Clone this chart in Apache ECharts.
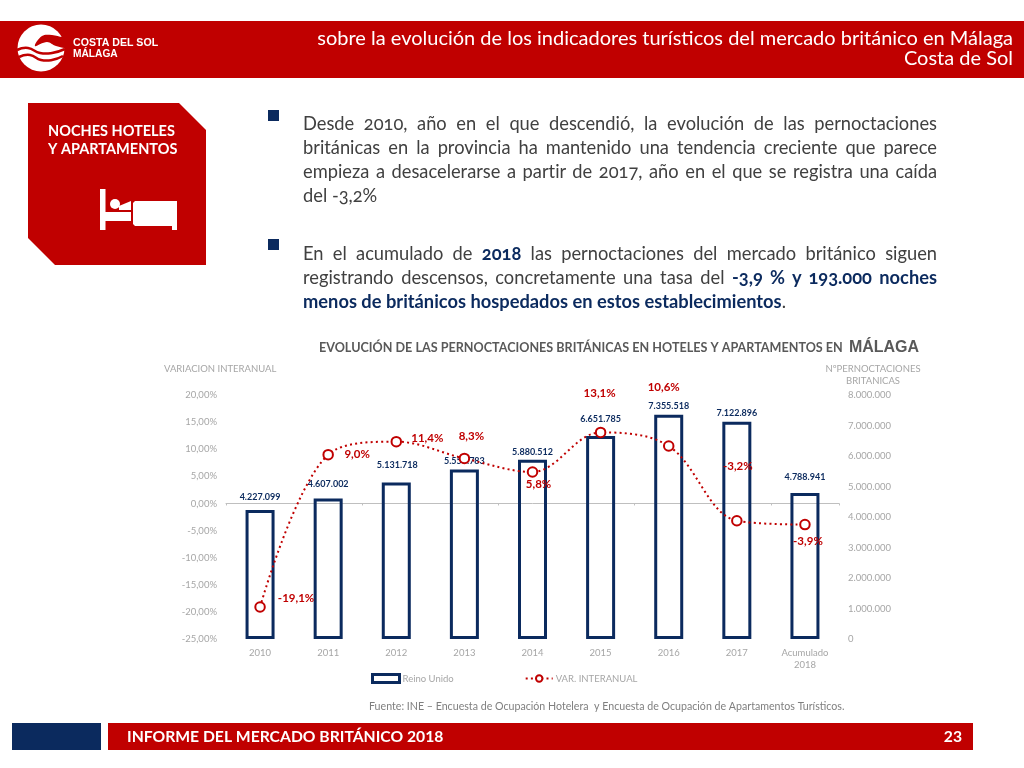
<!DOCTYPE html>
<html><head><meta charset="utf-8">
<style>
html,body{margin:0;padding:0;background:#fff;width:1024px;height:768px;overflow:hidden}
#c{position:absolute;left:0;top:0;width:1024px;height:768px}
.p{position:absolute;left:303px;width:634px;font-family:Lato,sans-serif;font-size:18.3px;line-height:24px;color:#404040;text-align:justify;font-variant-numeric:oldstyle-nums;font-variant-ligatures:none}
.p b{color:#0b2a5e}
</style>
<script src="https://cdn.jsdelivr.net/npm/echarts@6/dist/echarts.min.js"></script>
</head><body>
<div id="c"></div>
<div class="p" style="top:111px">Desde 2010, año en el que descendió, la evolución de las pernoctaciones británicas en la provincia ha mantenido una tendencia creciente que parece empieza a desacelerarse a partir de 2017, año en el que se registra una caída del -3,2%</div>
<div class="p" style="top:241px">En el acumulado de <b>2018</b> las pernoctaciones del mercado británico siguen registrando descensos, concretamente una tasa del <b>-3,9 % y 193.000 noches menos de británicos hospedados en estos establecimientos</b>.</div>
<script>
const categories = ['2010','2011','2012','2013','2014','2015','2016','2017','Acumulado\n2018'];
const pernoctaciones = [4227099,4607002,5131718,5557783,5880512,6651785,7355518,7122896,4788941];
const barLabels = ['4.227.099','4.607.002','5.131.718','5.557.783','5.880.512','6.651.785','7.355.518','7.122.896','4.788.941'];
const variacion = [-19.1,9.0,11.4,8.3,5.8,13.1,10.6,-3.2,-3.9];
const lineLabels = ['-19,1%','9,0%','11,4%','8,3%','5,8%','13,1%','10,6%','-3,2%','-3,9%'];
const leftTicks = {min:-25,max:20,interval:5};
const rightTicks = {min:0,max:8000000,interval:1000000};

const RED='#c00000', NAVY='#0b2a5e', GREY='#a6a6a6', FONT='Lato, sans-serif';
const lineOffsets=[[36,9],[29,17],[31,14],[7,-4],[6,30],[-1,-21],[-5,-41],[1,-37],[3,34]];
const barOffsets=[[0,-2],[0,-4],[1,-7],[0,2],[0,3],[0,-7],[0,2],[0,2],[0,-5]];
const thou=v=>String(v).replace(/\B(?=(\d{3})+$)/g,'.');

const chart=echarts.init(document.getElementById('c'),null,{renderer:'canvas'});
chart.setOption({
  animation:false,
  backgroundColor:'#fff',
  textStyle:{fontFamily:FONT},
  title:{text:'EVOLUCIÓN DE LAS PERNOCTACIONES BRITÁNICAS EN HOTELES Y APARTAMENTOS EN  {b|MÁLAGA}',left:319,top:340,padding:0,
    textStyle:{color:'#595959',fontSize:12.6,fontWeight:'bold',fontFamily:FONT,rich:{b:{fontSize:16,fontWeight:'bold',color:'#595959',fontFamily:'Liberation Sans'}}}},
  legend:{left:366,top:668,itemGap:71,itemWidth:27,itemHeight:8,
    textStyle:{color:GREY,fontSize:9.5,fontFamily:FONT,padding:[0,0,0,-2]},
    data:[{name:'Reino Unido',icon:'rect',itemStyle:{color:'#fff',borderColor:NAVY,borderWidth:3}},{name:'VAR. INTERANUAL'}]},
  grid:{left:226,right:185,top:395,bottom:129,containLabel:false},
  xAxis:[
    {type:'category',data:categories,position:'bottom',
     axisLine:{onZero:false,show:false},axisTick:{show:false},
     axisLabel:{color:GREY,fontSize:9.5,margin:8,lineHeight:12,interval:0}},
    {type:'category',data:categories,position:'bottom',
     axisLine:{onZero:true,show:true,lineStyle:{color:'#bfbfbf',width:1}},
     axisTick:{show:true,length:2,lineStyle:{color:'#bfbfbf'}},
     axisLabel:{show:false}}
  ],
  yAxis:[
    {type:'value',min:leftTicks.min,max:leftTicks.max,interval:leftTicks.interval,
     name:'VARIACION INTERANUAL',nameLocation:'end',nameGap:21,
     nameTextStyle:{color:GREY,fontSize:9.5,align:'left',padding:[0,0,0,-62]},
     axisLine:{show:false,onZero:false},axisTick:{show:false},splitLine:{show:false},
     axisLabel:{color:GREY,fontSize:9.5,margin:9,formatter:v=>v.toFixed(2).replace('.',',')+'%'}},
    {type:'value',min:rightTicks.min,max:rightTicks.max,interval:rightTicks.interval,
     name:'NºPERNOCTACIONES\nBRITANICAS',nameLocation:'end',nameGap:8,
     nameTextStyle:{color:GREY,fontSize:9.5,align:'center',lineHeight:12,padding:[0,0,0,68]},
     axisLine:{show:false,onZero:false},axisTick:{show:false},splitLine:{show:false},
     axisLabel:{color:GREY,fontSize:9.5,margin:9,formatter:thou}}
  ],
  series:[
    {name:'Reino Unido',type:'bar',xAxisIndex:0,yAxisIndex:1,barWidth:29,z:2,
     itemStyle:{color:'transparent',borderColor:NAVY,borderWidth:3},
     data:pernoctaciones.map((v,i)=>({value:v,label:{show:true,position:'top',distance:6,formatter:barLabels[i],color:NAVY,fontSize:9,fontWeight:'bold',offset:barOffsets[i]}}))},
    {name:'VAR. INTERANUAL',type:'line',xAxisIndex:0,yAxisIndex:0,smooth:0.35,z:5,symbol:'circle',symbolSize:9.5,
     lineStyle:{color:RED,width:2,type:[2,3.2]},
     itemStyle:{color:'#fff',borderColor:RED,borderWidth:2},
     data:variacion.map((v,i)=>({value:v,label:{show:true,position:'top',distance:6,formatter:lineLabels[i],color:RED,fontSize:11.5,fontWeight:'bold',offset:lineOffsets[i]}}))}
  ],
  graphic:{elements:[
    {type:'rect',shape:{x:0,y:21,width:1024,height:57},style:{fill:RED},z:-5},
    {type:'rect',shape:{x:12,y:723,width:89,height:27},style:{fill:NAVY},z:-5},
    {type:'rect',shape:{x:108,y:723,width:865,height:27},style:{fill:RED},z:-5},
    {type:'polygon',shape:{points:[[28,103],[179,103],[206,130],[206,265],[55,265],[28,238]]},style:{fill:RED},z:-5},
    {type:'rect',shape:{x:268,y:110,width:11,height:11},style:{fill:NAVY}},
    {type:'rect',shape:{x:268,y:239,width:11,height:11},style:{fill:NAVY}},
    // logo
    {type:'circle',shape:{cx:41,cy:48,r:23.5},style:{fill:'#fff'}},
    {type:'polygon',shape:{smooth:0.4,points:[[64,37],[52,35],[42,36],[35,46],[47,42],[56,46],[70,47],[70,33]]},style:{fill:RED}},
    {type:'polyline',shape:{smooth:0.5,points:[[17,50],[28,48],[40,53],[52,53],[65,49]]},style:{stroke:RED,lineWidth:2.5,fill:'none'}},
    {type:'polyline',shape:{smooth:0.5,points:[[19,57],[30,55],[41,60],[52,60],[63,56]]},style:{stroke:RED,lineWidth:2.5,fill:'none'}},
    {type:'text',x:73,y:38,style:{text:'COSTA DEL SOL',fill:'#fff',font:'bold 10.6px "Liberation Sans"'}},
    {type:'text',x:73,y:49.5,style:{text:'MÁLAGA',fill:'#fff',font:'bold 10.2px "Liberation Sans"'}},
    // header
    {type:'text',x:1013,y:28.5,style:{text:'sobre la evolución de los indicadores turísticos del mercado británico en Málaga',align:'right',fill:'#fff',font:'20px '+FONT}},
    {type:'text',x:1013,y:48.5,style:{text:'Costa de Sol',align:'right',fill:'#fff',font:'20px '+FONT}},
    // box
    {type:'text',x:48,y:123.5,style:{text:'NOCHES HOTELES',fill:'#fff',font:'bold 14.5px '+FONT}},
    {type:'text',x:48,y:141.5,style:{text:'Y APARTAMENTOS',fill:'#fff',font:'bold 14.5px '+FONT}},
    // bed
    {type:'rect',shape:{x:100,y:189,width:5.5,height:41},style:{fill:'#fff'}},
    {type:'rect',shape:{x:100,y:212,width:31,height:9},style:{fill:'#fff'}},
    {type:'circle',shape:{cx:115,cy:204,r:5},style:{fill:'#fff'}},
    {type:'polygon',shape:{points:[[119,206],[131,201],[131,210],[119,210]]},style:{fill:'#fff'}},
    {type:'polygon',shape:{points:[[135,201],[177,201],[177,230],[172,230],[172,226],[135,226],[133,224],[133,203]]},style:{fill:'#fff'}},
    // footer
    {type:'text',x:127,y:728.5,style:{text:'INFORME DEL MERCADO BRITÁNICO 2018',fill:'#fff',font:'bold 15.7px '+FONT}},
    {type:'text',x:962,y:729,style:{text:'23',align:'right',fill:'#fff',font:'bold 15.7px '+FONT}},
    {type:'text',x:369,y:701,style:{text:'Fuente: INE – Encuesta de Ocupación Hotelera  y Encuesta de Ocupación de Apartamentos Turísticos.',fill:'#7f7f7f',font:'10.65px '+FONT}}
  ]}
});
</script>
</body></html>
